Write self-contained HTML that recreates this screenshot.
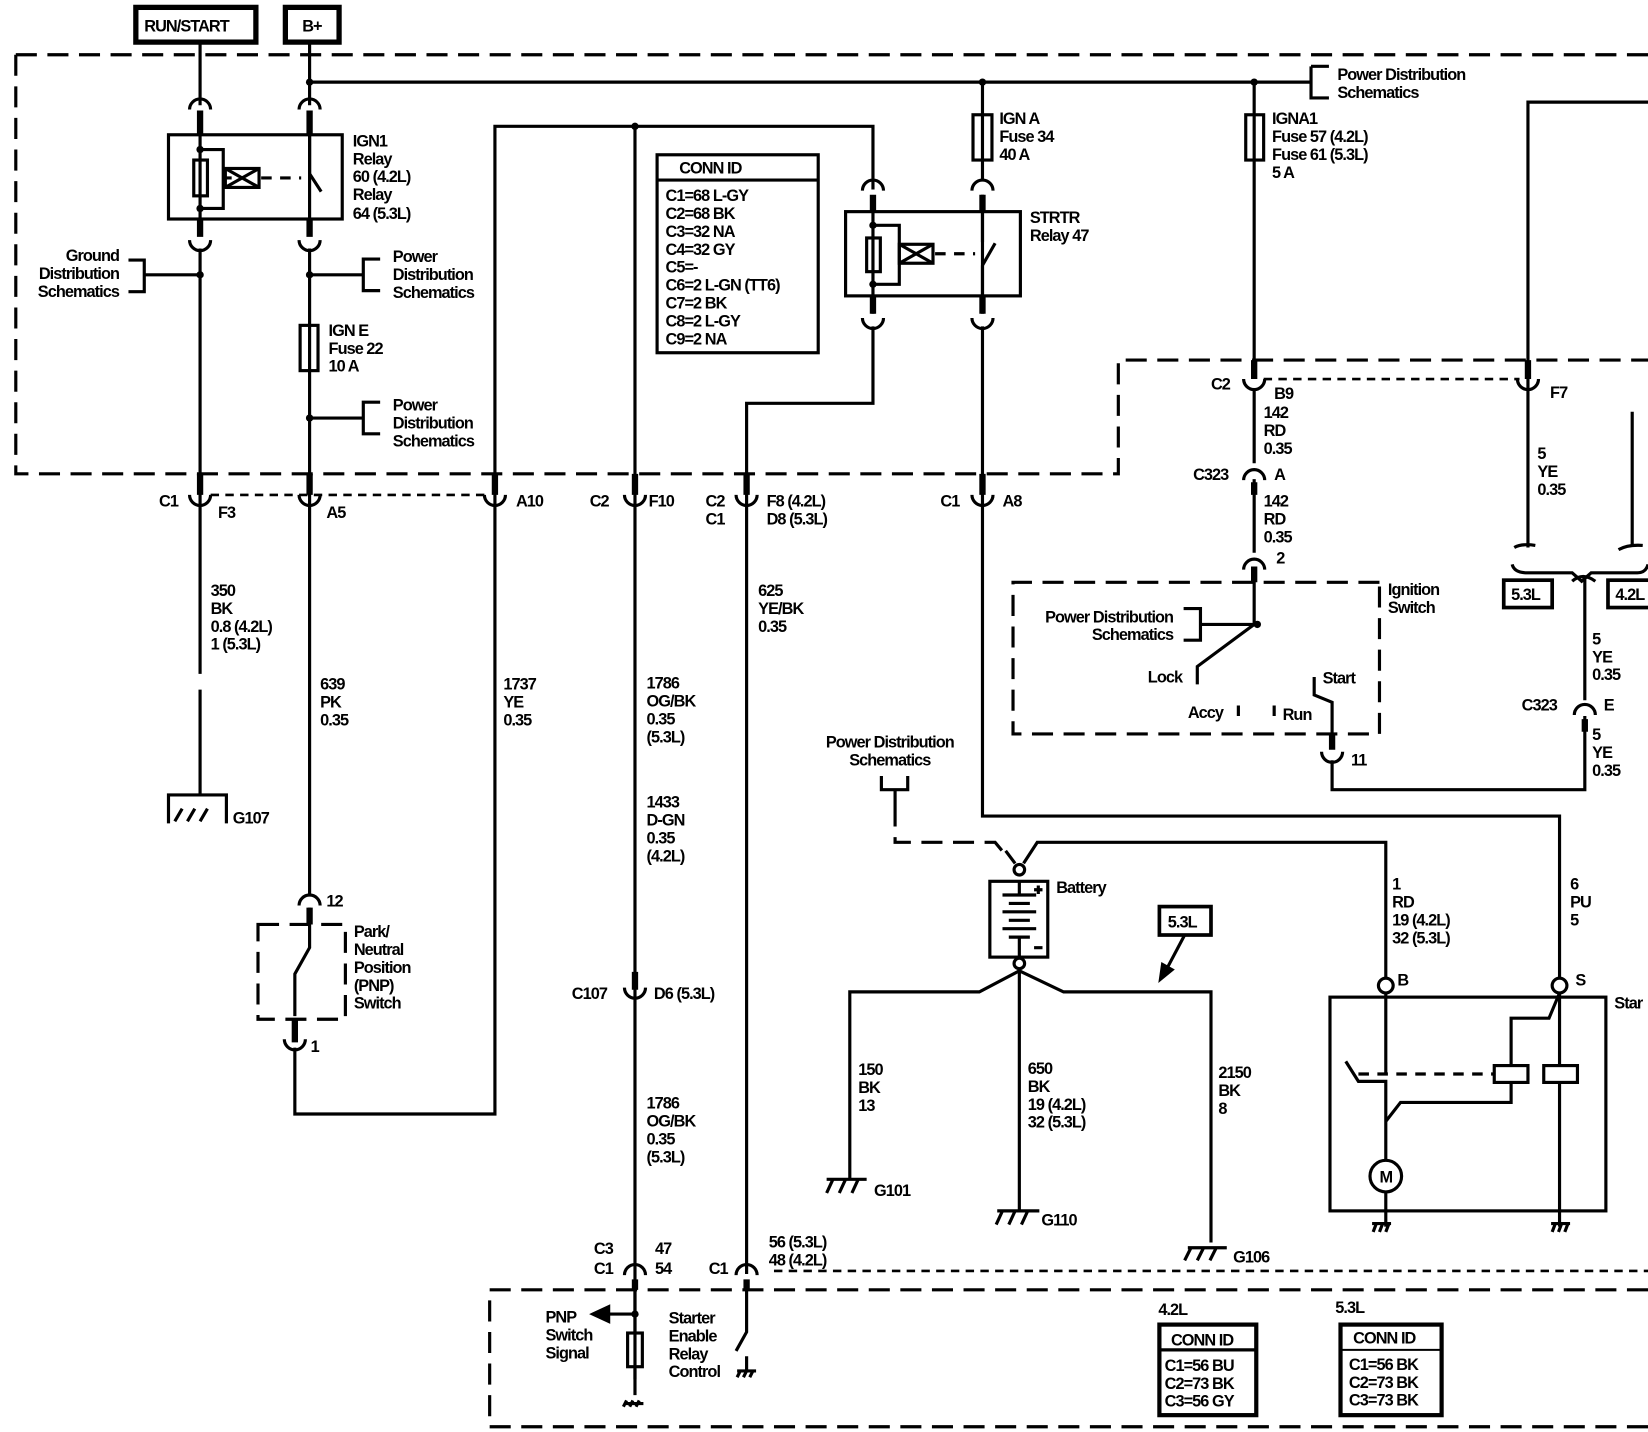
<!DOCTYPE html>
<html><head><meta charset="utf-8"><style>
html,body{margin:0;padding:0;background:#fff;}
svg{display:block;}
text{font-family:"Liberation Sans",Arial,sans-serif;font-size:15.5px;font-weight:bold;fill:#000;letter-spacing:-0.9px;}
</style></head><body>
<svg width="1648" height="1432" viewBox="0 0 1565 1360" preserveAspectRatio="none" xmlns="http://www.w3.org/2000/svg">
<rect x="0" y="0" width="1565" height="1360" fill="#fff"/>
<g fill="none" stroke="#000" stroke-width="3">
<rect x="129" y="7" width="114" height="33" stroke-width="5"/>
<rect x="271" y="7" width="51" height="33" stroke-width="5"/>
<path d="M15,52 H1565 M15,52 V450 H1062 V342 H1565" stroke-dasharray="20,10"/>
<path d="M200,470 H462 M1200,360 H1443 M735,1207 H1565" stroke-width="2.5" stroke-dasharray="8,6"/>
<path d="M1565,1225 H465 V1355 H1565" stroke-dasharray="20,10"/>
<path d="M1310,553 H962 V697 H1310 V553" stroke-dasharray="20,10"/>
<path d="M245,878 H328 V968 H245 Z" stroke-dasharray="20,10"/>

<path d="M294,78 H1245"/>
<path d="M1245,63 H1262 M1245,63 V93 H1262" stroke-width="3"/>
<path d="M190,42 V100 M190,112 V222 M190,236 V640 M190,655 V755"/>
<path d="M294,42 V100 M294,112 V222 M294,236 V850 M294,862 V900 L280,925 V965 M280,995 V1058 H470 V120 H829 V180"/>
<path d="M603,120 V1310"/>
<path d="M829,190 V298 M829,310 V383 H709 V1210"/>
<path d="M933,78 V172 M933,185 V298 M933,310 V775 H1481 V930"/>
<path d="M1191,78 V360 M1191,370 V440 M1191,455 V525 M1191,540 V593 L1137,633 V650"/>
<path d="M1565,97 H1451 V520 M1550,391 V518"/>
<path d="M1505,548 V665 M1505,680 V750 H1265 V722 M1265,707 V667 L1248,660 V643"/>
<path d="M1191,593 H1140 M1124,578 H1140 V608 H1124"/>
<path d="M1176,670 V680 M1210,670 V680"/>
<path d="M1436,536 Q1438,544 1450,544 H1493 L1502,552 L1511,544 H1555 Q1563,544 1565,536"/>
<path d="M1438,520 Q1445,516 1458,518 M1537,522 Q1546,517 1560,518"/>
<path d="M1493,552 Q1503,543 1515,552" />
<g stroke-width="6">
<path d="M190,105 V128 M294,105 V128 M190,208 V225 M294,208 V225"/>
<path d="M829,185 V201 M933,185 V201 M829,281 V298 M933,281 V298"/>
<path d="M190,450 V470 M294,450 V470 M470,450 V470 M603,450 V470 M709,450 V470 M933,450 V470"/>
<path d="M1191,342 V360 M1451,342 V360 M1191,458 V470 M1505,683 V695"/>
<path d="M294,862 V878 M280,968 V990 M603,923 V940 M603,1215 V1225 M709,1215 V1225 M1191,538 V553 M1265,697 V712"/>
</g>
<g stroke-width="3">
<path d="M180,104 A10,10 0 0 1 200,104 M284,104 A10,10 0 0 1 304,104"/>
<path d="M180,228 A10,10 0 0 0 200,228 M284,228 A10,10 0 0 0 304,228"/>
<path d="M819,181 A10,10 0 0 1 839,181 M923,181 A10,10 0 0 1 943,181"/>
<path d="M819,302 A10,10 0 0 0 839,302 M923,302 A10,10 0 0 0 943,302"/>
<path d="M180,470 A10,10 0 0 0 200,470 M284,470 A10,10 0 0 0 304,470 M460,470 A10,10 0 0 0 480,470 M593,470 A10,10 0 0 0 613,470 M699,470 A10,10 0 0 0 719,470 M923,470 A10,10 0 0 0 943,470"/>
<path d="M1181,360 A10,10 0 0 0 1201,360 M1441,360 A10,10 0 0 0 1461,360"/>
<path d="M1181,456 A10,10 0 0 1 1201,456 M1181,541 A10,10 0 0 1 1201,541 M1495,679 A10,10 0 0 1 1515,679"/>
<path d="M1255,714 A10,10 0 0 0 1275,714"/>
<path d="M284,860 A10,10 0 0 1 304,860 M270,987 A10,10 0 0 0 290,987 M593,938 A10,10 0 0 0 613,938"/>
<path d="M593,1211 A10,10 0 0 1 613,1211 M699,1211 A10,10 0 0 1 719,1211"/>
</g>
<rect x="160" y="128" width="165" height="80"/>
<rect x="184" y="152" width="13" height="34"/>
<path d="M190,142 H212 V198 H190"/>
<rect x="214" y="160" width="32" height="18"/>
<path d="M214,160 L246,178 M214,178 L246,160 M214,169 H220"/>
<path d="M248,169 H286" stroke-dasharray="10,8"/>
<path d="M294,128 V165 M294,165 L305,182"/>
<rect x="803" y="201" width="166" height="80"/>
<rect x="823" y="226" width="13" height="32"/>
<path d="M829,214 H854 V270 H829"/>
<rect x="854" y="232" width="32" height="18"/>
<path d="M854,232 L886,250 M854,250 L886,232"/>
<path d="M888,241 H926" stroke-dasharray="10,8"/>
<path d="M933,201 V230 M933,252 V281 M933,252 L945,231"/>
<rect x="285" y="309" width="17" height="43"/>
<rect x="924" y="109" width="18" height="43"/>
<rect x="1183" y="109" width="17" height="43"/>
<path d="M122,247 H137 V277 H122 M137,261 H190"/>
<path d="M294,261 H345 M361,246 H345 V276 H361"/>
<path d="M294,397 H345 M361,382 H345 V412 H361"/>
<rect x="624" y="147" width="153" height="188"/>
<path d="M624,171 H777"/>
<path d="M160,782 V755 H215 V782" stroke-width="3"/>
<path d="M166,780 L173,768 M178,780 L185,768 M190,780 L197,768" stroke-width="3"/>
<!-- battery -->
<path d="M837,737 V750 H862 V737 M850,750 V765"/>
<path d="M850,765 V800 H945 L955,812" stroke-dasharray="20,10"/>
<path d="M964,820 L955,808 M972,820 L985,800 H1316 V930"/>
<circle cx="968" cy="826" r="5"/>
<rect x="940" y="837" width="55" height="72"/>
<path d="M968,837 V850 M952,850 H984 M958,858 H978 M952,866 H984 M958,874 H978 M952,882 H984 M958,890 H978 M968,890 V909" stroke-width="3"/>
<path d="M982,845 H990 M986,841 V849 M982,900 H990"/>
<circle cx="968" cy="915" r="5"/>
<path d="M968,920 V1150 M968,922 L930,942 H807 V1120 M968,922 L1010,942 H1150 V1180"/>
<rect x="1101" y="861" width="49" height="27" stroke-width="3.5"/>
<path d="M1125,888 L1107,922"/>
<path d="M1102,930 L1104,916 L1113,921 Z" fill="#000"/>
<path d="M785,1120 H823 M785,1133 L791,1120 M797,1133 L803,1120 M809,1133 L815,1120"/>
<path d="M947,1150 H987 M946,1163 L952,1150 M958,1163 L964,1150 M970,1163 L976,1150"/>
<path d="M1128,1185 H1165 M1125,1197 L1131,1185 M1137,1197 L1143,1185 M1149,1197 L1155,1185"/>
<path d="M1303,1162 H1321 M1304,1170 L1307,1162 M1310,1170 L1313,1162 M1316,1170 L1319,1162"/>
<path d="M1473,1162 H1491 M1474,1170 L1477,1162 M1480,1170 L1483,1162 M1486,1170 L1489,1162"/>
<rect x="1263" y="947" width="262" height="203"/>
<circle cx="1316" cy="936" r="7" fill="#fff"/>
<circle cx="1481" cy="936" r="7" fill="#fff"/>
<path d="M1316,943 V1020 M1278,1008 L1290,1027 H1316 V1102 M1316,1065 L1330,1047 H1435 V1028"/>
<path d="M1481,943 L1471,967 H1435 V1012"/>
<path d="M1290,1020 H1418" stroke-dasharray="10,8"/>
<rect x="1419" y="1012" width="32" height="16"/>
<rect x="1466" y="1012" width="32" height="16"/>
<path d="M1481,943 V1012 M1481,1028 V1165"/>
<circle cx="1316" cy="1117" r="15"/>
<path d="M1316,1132 V1165"/>
<path d="M603,1225 V1266 M603,1300 V1325"/>
<rect x="596" y="1266" width="14" height="32"/>
<path d="M603,1248 H578"/>
<path d="M563,1248 L578,1241 V1255 Z" fill="#000"/>
<path d="M593,1333 H611 M592,1336 L595,1330 M598,1336 L601,1330 M604,1336 L607,1330"/>
<path d="M709,1225 V1265 L699,1283"/>
<path d="M709,1288 V1302 M700,1302 H718 M700,1308 L703,1302 M706,1308 L709,1302 M712,1308 L715,1302"/>
<rect x="1101" y="1258" width="92" height="86" stroke-width="4"/>
<path d="M1101,1282 H1193" stroke-width="3"/>
<rect x="1273" y="1258" width="96" height="86" stroke-width="4"/>
<path d="M1273,1282 H1369" stroke-width="2"/>
</g>
<g fill="#000">
<circle cx="294" cy="78" r="3.5"/><circle cx="933" cy="78" r="3.5"/><circle cx="1191" cy="78" r="3.5"/>
<circle cx="603" cy="120" r="3.5"/><circle cx="190" cy="261" r="3.5"/><circle cx="294" cy="261" r="3.5"/><circle cx="294" cy="397" r="3.5"/>
<circle cx="190" cy="142" r="3.5"/><circle cx="190" cy="198" r="3.5"/><circle cx="829" cy="214" r="3.5"/><circle cx="829" cy="270" r="3.5"/>
<circle cx="1194" cy="593" r="3.5"/><circle cx="603" cy="1248" r="3.5"/>
</g>
<g>
<text x="137" y="30">RUN/START</text>
<text x="287" y="30">B+</text>
<text x="335" y="139">IGN1</text><text x="335" y="156">Relay</text><text x="335" y="173">60 (4.2L)</text><text x="335" y="190">Relay</text><text x="335" y="208">64 (5.3L)</text>
<text x="113" y="248" text-anchor="end">Ground</text><text x="113" y="265" text-anchor="end">Distribution</text><text x="113" y="282" text-anchor="end">Schematics</text>
<text x="373" y="249">Power</text><text x="373" y="266">Distribution</text><text x="373" y="283">Schematics</text>
<text x="312" y="319">IGN E</text><text x="312" y="336">Fuse 22</text><text x="312" y="353">10 A</text>
<text x="373" y="390">Power</text><text x="373" y="407">Distribution</text><text x="373" y="424">Schematics</text>
<text x="645" y="165">CONN ID</text>
<text x="632" y="191">C1=68 L-GY</text><text x="632" y="208">C2=68 BK</text><text x="632" y="225">C3=32 NA</text><text x="632" y="242">C4=32 GY</text><text x="632" y="259">C5=-</text><text x="632" y="276">C6=2 L-GN (TT6)</text><text x="632" y="293">C7=2 BK</text><text x="632" y="310">C8=2 L-GY</text><text x="632" y="327">C9=2 NA</text>
<text x="949" y="118">IGN A</text><text x="949" y="135">Fuse 34</text><text x="949" y="152">40 A</text>
<text x="978" y="212">STRTR</text><text x="978" y="229">Relay 47</text>
<text x="1208" y="118">IGNA1</text><text x="1208" y="135">Fuse 57 (4.2L)</text><text x="1208" y="152">Fuse 61 (5.3L)</text><text x="1208" y="169">5 A</text>
<text x="1270" y="76">Power Distribution</text><text x="1270" y="93">Schematics</text>
<text x="1150" y="370">C2</text><text x="1210" y="379">B9</text><text x="1200" y="397">142</text><text x="1200" y="414">RD</text><text x="1200" y="431">0.35</text>
<text x="1133" y="456">C323</text><text x="1210" y="456">A</text><text x="1200" y="481">142</text><text x="1200" y="498">RD</text><text x="1200" y="515">0.35</text><text x="1212" y="535">2</text>
<text x="1472" y="378">F7</text><text x="1460" y="436">5</text><text x="1460" y="453">YE</text><text x="1460" y="470">0.35</text>
<text x="1318" y="565">Ignition</text><text x="1318" y="582">Switch</text>
<text x="1114" y="591" text-anchor="end">Power Distribution</text><text x="1114" y="608" text-anchor="end">Schematics</text>
<text x="1090" y="648">Lock</text><text x="1128" y="682">Accy</text><text x="1218" y="684">Run</text><text x="1256" y="649">Start</text><text x="1283" y="727">11</text>
<text x="1512" y="612">5</text><text x="1512" y="629">YE</text><text x="1512" y="646">0.35</text>
<text x="1445" y="675">C323</text><text x="1523" y="675">E</text>
<text x="1512" y="703">5</text><text x="1512" y="720">YE</text><text x="1512" y="737">0.35</text>
<text x="151" y="481">C1</text><text x="207" y="492">F3</text><text x="310" y="492">A5</text><text x="490" y="481">A10</text>
<text x="560" y="481">C2</text><text x="616" y="481">F10</text><text x="670" y="481">C2</text><text x="670" y="498">C1</text><text x="728" y="481">F8 (4.2L)</text><text x="728" y="498">D8 (5.3L)</text>
<text x="893" y="481">C1</text><text x="952" y="481">A8</text>
<text x="200" y="566">350</text><text x="200" y="583">BK</text><text x="200" y="600">0.8 (4.2L)</text><text x="200" y="617">1 (5.3L)</text>
<text x="720" y="566">625</text><text x="720" y="583">YE/BK</text><text x="720" y="600">0.35</text>
<text x="304" y="655">639</text><text x="304" y="672">PK</text><text x="304" y="689">0.35</text>
<text x="478" y="655">1737</text><text x="478" y="672">YE</text><text x="478" y="689">0.35</text>
<text x="614" y="654">1786</text><text x="614" y="671">OG/BK</text><text x="614" y="688">0.35</text><text x="614" y="705">(5.3L)</text>
<text x="614" y="767">1433</text><text x="614" y="784">D-GN</text><text x="614" y="801">0.35</text><text x="614" y="818">(4.2L)</text>
<text x="221" y="782">G107</text>
<text x="310" y="861">12</text><text x="336" y="890">Park/</text><text x="336" y="907">Neutral</text><text x="336" y="924">Position</text><text x="336" y="941">(PNP)</text><text x="336" y="958">Switch</text><text x="295" y="999">1</text>
<text x="543" y="949">C107</text><text x="621" y="949">D6 (5.3L)</text>
<text x="614" y="1053">1786</text><text x="614" y="1070">OG/BK</text><text x="614" y="1087">0.35</text><text x="614" y="1104">(5.3L)</text>
<text x="845" y="710" text-anchor="middle">Power Distribution</text><text x="845" y="727" text-anchor="middle">Schematics</text>
<text x="1003" y="848">Battery</text>
<text x="1109" y="881">5.3L</text>
<text x="1322" y="845">1</text><text x="1322" y="862">RD</text><text x="1322" y="879">19 (4.2L)</text><text x="1322" y="896">32 (5.3L)</text>
<text x="1491" y="845">6</text><text x="1491" y="862">PU</text><text x="1491" y="879">5</text>
<text x="1327" y="936">B</text><text x="1496" y="936">S</text><text x="1533" y="958">Star</text>
<text x="1316" y="1123" text-anchor="middle">M</text>
<text x="815" y="1021">150</text><text x="815" y="1038">BK</text><text x="815" y="1055">13</text>
<text x="976" y="1020">650</text><text x="976" y="1037">BK</text><text x="976" y="1054">19 (4.2L)</text><text x="976" y="1071">32 (5.3L)</text>
<text x="1157" y="1024">2150</text><text x="1157" y="1041">BK</text><text x="1157" y="1058">8</text>
<text x="830" y="1136">G101</text><text x="989" y="1164">G110</text><text x="1171" y="1199">G106</text>
<text x="564" y="1191">C3</text><text x="564" y="1210">C1</text><text x="622" y="1191">47</text><text x="622" y="1210">54</text>
<text x="673" y="1210">C1</text><text x="730" y="1185">56 (5.3L)</text><text x="730" y="1202">48 (4.2L)</text>
<text x="518" y="1256">PNP</text><text x="518" y="1273">Switch</text><text x="518" y="1290">Signal</text>
<text x="635" y="1257">Starter</text><text x="635" y="1274">Enable</text><text x="635" y="1291">Relay</text><text x="635" y="1308">Control</text>
<text x="1100" y="1249">4.2L</text><text x="1268" y="1247">5.3L</text>
<text x="1112" y="1278">CONN ID</text><text x="1106" y="1302">C1=56 BU</text><text x="1106" y="1319">C2=73 BK</text><text x="1106" y="1336">C3=56 GY</text>
<text x="1285" y="1276">CONN ID</text><text x="1281" y="1301">C1=56 BK</text><text x="1281" y="1318">C2=73 BK</text><text x="1281" y="1335">C3=73 BK</text>
</g>
<rect x="1428" y="551" width="46" height="26" fill="none" stroke="#000" stroke-width="3.5"/>
<text x="1435" y="570">5.3L</text>
<rect x="1527" y="551" width="46" height="26" fill="none" stroke="#000" stroke-width="3.5"/>
<text x="1534" y="570">4.2L</text>
</svg>
</body></html>
